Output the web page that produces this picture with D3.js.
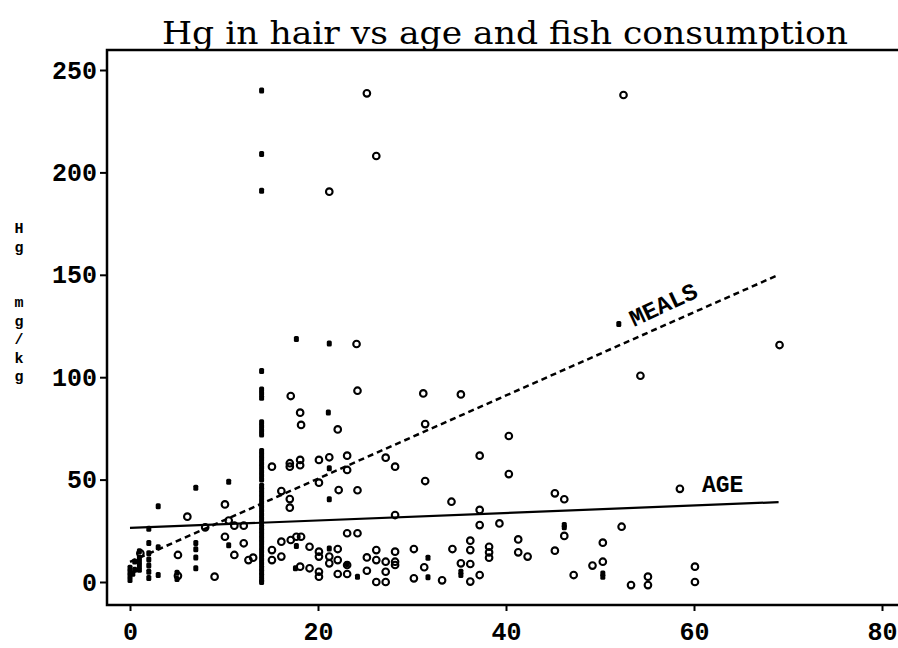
<!DOCTYPE html>
<html>
<head>
<meta charset="utf-8">
<script src="https://cdn.jsdelivr.net/npm/d3@7"></script>
<style>
  body { margin: 0; background: #fff; }
  svg { display: block; }
  .tick text { font-family: "Liberation Mono", "DejaVu Sans Mono", monospace; font-weight: bold; }
</style>
</head>
<body>
<svg></svg>
<script>
//data: meals per month (filled) and age (open) against Hg in hair, mg/kg
const mealsX = [0, 0, 0, 0, 0.5, 0.5, 0.3,
    1, 1, 1, 1, 1,
    2, 2, 2, 2, 2, 2, 2,
    3, 3, 3,
    5, 5,
    7, 7, 7, 7, 7,
    10.5, 10.5,
    14, 14, 14, 14, 14, 14, 14, 14, 14, 14, 14, 14, 14, 14, 14, 14, 14, 14, 14, 14, 14, 14,
    14, 14, 14, 14, 14, 14, 14, 14, 14, 14, 14, 14, 14, 14, 14, 14, 14, 14, 14, 14, 14, 14,
    17.7, 17.7, 17.6,
    21.2, 21.1, 21.2, 21.2, 21.2,
    23.1, 24.2,
    31.7, 31.7,
    35.2, 35.2,
    46.2, 46.2,
    50.3, 50.3];
const mealsY = [1, 3, 5, 7, 10, 6, 4,
    15, 12, 10, 8, 6,
    26, 19, 14, 11, 8, 5, 2,
    37, 17, 3.4,
    4.5, 1.5,
    46, 19, 16, 12, 6.7,
    49, 18,
    240, 209, 191, 103, 94, 92, 90, 78, 76, 74, 72, 64, 62, 60, 58, 56, 54, 52, 50, 47, 45, 43,
    41, 39, 37, 35, 33, 31, 29, 27, 25, 23, 21, 19, 17, 15, 13, 11, 9, 7, 5, 3, 1, 0,
    118.6, 17.6, 6.7,
    116.5, 82.8, 55.5, 40.4, 16.4,
    8.8, 2.6,
    11.9, 2.3,
    5, 3.4,
    27.8, 26.7,
    4.2, 2.6];

const ageX = [25.2, 26.2, 21.2, 52.5,
    24.1, 17.1, 24.2, 18.1, 18.2, 22.1,
    15.1, 17, 17, 18.1, 18.1, 20.1, 21.2, 23.1, 27.2, 28.2, 23.1, 20.1, 16.1, 22.2, 24.2, 17, 17,
    10.1, 6.1, 8, 10.5, 11.1, 12.1, 28.2, 10.1, 12.1, 11.1, 12.6, 13.1, 5.1, 1.1, 5.1, 9,
    15.1, 15.1, 16.1, 16.1, 17.1, 17.7, 18.2, 19.1, 20.1, 20.1, 22.1, 21.2, 21.2, 22.1, 23.1, 24.2,
    23.1, 22.1, 23.1, 25.2, 25.2, 26.2, 26.2, 26.2, 27.2, 27.2, 27.2, 28.2, 28.2, 28.2, 18.1, 19.1, 20.1, 20.1,
    31.4, 40.3, 37.2, 40.3, 31.4, 34.2, 45.2, 46.2, 37.2, 37.2, 39.3, 46.2, 52.3,
    30.2, 30.2, 31.3, 33.2, 34.3, 35.2, 36.2, 36.2, 36.2, 37.2, 36.2, 38.2, 38.2, 38.2, 41.3, 41.3,
    42.3, 45.2, 47.2, 49.2, 50.3, 50.3, 53.3, 55.1, 55.1, 60.1, 60.1,
    69.1, 54.3, 31.2, 35.2];
const ageY = [238.6, 208, 190.6, 237.8,
    116.2, 90.8, 93.4, 82.7, 76.7, 74.5,
    56.3, 58, 56.3, 59.6, 57, 59.6, 60.9, 61.7, 60.7, 56.3, 54.7, 48.5, 44.4, 44.9, 44.8, 40.5, 36.3,
    37.9, 31.9, 26.7, 30, 27.5, 27.5, 32.7, 22.1, 18.9, 13.2, 10.7, 11.9, 13.2, 14, 3, 2.6,
    15.6, 10.7, 19.7, 12.4, 20.5, 22.1, 22.1, 17.2, 14.8, 12.4, 16.1, 12.4, 9.1, 10.7, 23.8, 23.8,
    8.3, 3.9, 3.9, 12, 5.5, 15.6, 10.7, 0, 0, 9.9, 5, 14.8, 9.9, 8.3, 7.5, 6.7, 5, 2.6,
    77.1, 71.3, 61.7, 52.7, 49.3, 39.2, 43.3, 40.4, 35.2, 27.8, 28.6, 22.5, 27,
    16.1, 1.8, 7.2, 0.8, 16.1, 9.1, 20.2, 15.6, 8.8, 3.4, 0.2, 17.2, 14.5, 11.9, 20.8, 14.5,
    12.4, 15.3, 3.4, 8, 19.2, 9.9, -1.5, 2.6, -1.5, 7.5, 0,
    115.7, 100.7, 92.1, 91.6];

//fitted lines (end points)
const mealsFitX = [0, 69];
const mealsFitY = [9.8, 150];
const ageFitX = [0, 69];
const ageFitY = [26.4, 39];

const xTicks = [0, 20, 40, 60, 80];
const yTicks = [0, 50, 100, 150, 200, 250];
const yLabel = "Hg mg/kg";

//constants
const width = 898;
const height = 648;
const frame = {left: 107, top: 50, right: 898, bottom: 605};

//scales
let xScale = d3.scaleLinear()
    .domain([0, 80])
    .range([130, 882]);

let yScale = d3.scaleLinear()
    .domain([0, 250])
    .range([582, 70]);

//canvas
let svg = d3.select("svg")
    .attr("width", width)
    .attr("height", height)
    .style("background-color", "#fff");

//title
svg.append("text")
    .attr("x", 505)
    .attr("y", 44)
    .attr("text-anchor", "middle")
    .attr("textLength", 686)
    .attr("lengthAdjust", "spacingAndGlyphs")
    .style("font-family", "'DejaVu Serif', serif")
    .style("font-size", "31px")
    .text("Hg in hair vs age and fish consumption");

//axes
let xAxis = d3.axisBottom(xScale)
    .tickValues(xTicks)
    .tickSize(6)
    .tickPadding(11)
    .tickSizeOuter(0);

let yAxis = d3.axisLeft(yScale)
    .tickValues(yTicks)
    .tickSize(7)
    .tickPadding(3)
    .tickSizeOuter(0);

let gx = svg.append("g")
    .attr("transform", "translate(0," + frame.bottom + ")")
    .call(xAxis);

let gy = svg.append("g")
    .attr("transform", "translate(" + frame.left + ",0)")
    .call(yAxis);

[gx, gy].forEach(g => {
    g.select(".domain").remove();
    g.selectAll(".tick line").attr("stroke", "#000").attr("stroke-width", 2);
    g.selectAll(".tick text").style("font-size", "25px").attr("fill", "#000");
});

//frame
svg.append("path")
    .attr("d", "M" + frame.right + "," + frame.top + "H" + frame.left + "V" + frame.bottom + "H" + frame.right)
    .attr("fill", "none")
    .attr("stroke", "#000")
    .attr("stroke-width", 2.5);

//y label, one character per line (the space leaves an extra blank line)
let chars = yLabel.split("");
let lineNo = [];
let n = 0;
chars.forEach(c => { lineNo.push(n); n += (c == " ") ? 2 : 1; });

svg.append("text")
    .attr("y", 233)
    .style("font-family", "'Liberation Mono', monospace")
    .style("font-weight", "bold")
    .style("font-size", "15px")
    .attr("text-anchor", "middle")
    .selectAll("tspan")
    .data(chars.map((c, i) => ({c: c, line: lineNo[i]})).filter(d => d.c != " "))
    .enter()
    .append("tspan")
    .attr("x", 19)
    .attr("y", d => 233 + d.line * 18.5)
    .text(d => d.c);

//fitted lines
let line = d3.line()
    .x(d => xScale(d[0]))
    .y(d => yScale(d[1]));

svg.append("path")
    .datum(d3.zip(mealsFitX, mealsFitY))
    .attr("d", line)
    .attr("fill", "none")
    .attr("stroke", "#000")
    .attr("stroke-width", 2.5)
    .attr("stroke-dasharray", "6,4");

svg.append("path")
    .datum(d3.zip(ageFitX, ageFitY))
    .attr("d", line)
    .attr("fill", "none")
    .attr("stroke", "#000")
    .attr("stroke-width", 2.2);

//points
svg.append("g")
    .selectAll("rect")
    .data(d3.zip(mealsX, mealsY))
    .enter()
    .append("rect")
    .attr("x", d => xScale(d[0]) - 2.5)
    .attr("y", d => yScale(d[1]) - 3)
    .attr("width", 5)
    .attr("height", 6)
    .attr("rx", 1.5)
    .attr("fill", "#000");

svg.append("g")
    .selectAll("circle")
    .data(d3.zip(ageX, ageY))
    .enter()
    .append("circle")
    .attr("cx", d => xScale(d[0]))
    .attr("cy", d => yScale(d[1]))
    .attr("r", 3.3)
    .attr("fill", "none")
    .attr("stroke", "#000")
    .attr("stroke-width", 2.1);

//line labels
svg.append("rect")
    .attr("x", xScale(52) - 2.5)
    .attr("y", yScale(126) - 3)
    .attr("width", 5)
    .attr("height", 6)
    .attr("rx", 1.5)
    .attr("fill", "#000");

svg.append("text")
    .attr("transform", "translate(" + 634 + "," + 327 + ") rotate(-25)")
    .style("font-family", "'Liberation Mono', monospace")
    .style("font-weight", "bold")
    .style("font-size", "24px")
    .text("MEALS");

svg.append("circle")
    .attr("cx", xScale(58.5))
    .attr("cy", yScale(45.5))
    .attr("r", 3.3)
    .attr("fill", "none")
    .attr("stroke", "#000")
    .attr("stroke-width", 2.1);

svg.append("text")
    .attr("x", 702)
    .attr("y", 492)
    .style("font-family", "'Liberation Mono', monospace")
    .style("font-weight", "bold")
    .style("font-size", "23px")
    .text("AGE");
</script>
</body>
</html>
